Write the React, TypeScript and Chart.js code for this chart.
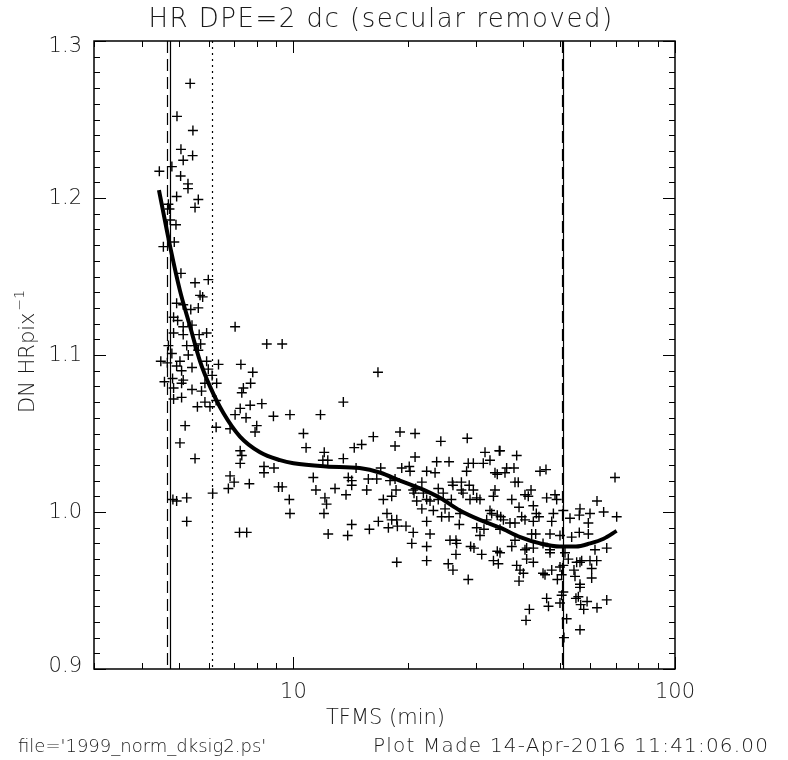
import React, { useEffect, useRef } from 'react';
import { Chart, registerables } from 'chart.js';

Chart.register(...registerables);

// ---------- text ----------
const TITLE = 'HR DPE=2 dc (secular removed)';
const X_TITLE = 'TFMS (min)';
const Y_TITLE = 'DN HRpix';
const Y_TITLE_SUP = '\u22121';
const FOOTER_LEFT = "file='1999_norm_dksig2.ps'";
const FOOTER_RIGHT = 'Plot Made 14-Apr-2016 11:41:06.00';

// ---------- axes ----------
const X_MIN = 3;
const X_MAX = 100;
const Y_MIN = 0.9;
const Y_MAX = 1.3;
const X_LABELED_TICKS = [10, 100];
const X_MINOR_TICKS = [3, 4, 5, 6, 7, 8, 9, 20, 30, 40, 50, 60, 70, 80, 90];
const Y_LABELED_TICKS = [0.9, 1.0, 1.1, 1.2, 1.3];
const Y_MINOR_STEP = 0.01;

// ---------- vertical reference lines ----------
const VLINE_X = [4.67, 4.76, 6.1, 50.5, 51.0];
const VLINE_STYLE = ['dashed', 'solid', 'dotted', 'dashed', 'solid'];

// ---------- fitted curve ----------
const FIT_X = [4.44, 4.75, 5.04, 5.36, 5.69, 6.04, 6.55, 7.24, 8.17, 9.22, 10.0, 12.2, 14.9, 16.9, 19.0, 21.5, 24.2, 27.3, 30.8, 34.8, 39.3, 44.3, 49.9, 55.0, 59.9, 65.0, 70.3];
const FIT_Y = [1.205, 1.169, 1.141, 1.118, 1.096, 1.080, 1.063, 1.048, 1.038, 1.033, 1.031, 1.029, 1.028, 1.025, 1.020, 1.015, 1.009, 1.001, 0.995, 0.990, 0.984, 0.980, 0.978, 0.978, 0.980, 0.983, 0.988];

// ---------- measurements (TFMS min, DN/HRpix) ----------
const SCATTER_X = [
  5.36, 4.95, 5.45, 5.07, 5.44, 5.14, 4.80, 4.45, 5.06,
  5.29, 5.29, 5.63, 4.94, 5.52, 4.70, 4.73, 4.75, 4.92, 4.56, 4.87, 5.07, 5.52, 5.98, 5.69, 5.78,
  4.94, 5.14, 5.38, 5.63, 4.85, 4.97, 5.14, 5.42, 4.85, 5.14, 5.66, 5.92, 7.03, 4.70, 5.25, 5.50,
  5.71, 4.80, 5.30, 5.63, 4.49, 4.67, 5.04, 4.94, 5.09, 5.42, 5.92, 6.36, 7.28, 7.82, 5.98, 6.12,
  4.59, 4.82, 5.14, 5.09, 4.85, 5.42, 5.74, 5.86, 6.29, 7.72, 7.39, 7.32, 4.85, 5.09, 5.86, 6.27,
  5.60, 6.04, 7.25, 7.70, 7.03, 7.51, 5.20, 6.27, 8.01, 7.93, 6.82, 5.04, 7.25, 7.32, 5.52, 7.25,
  6.82, 6.99, 6.75, 7.66, 6.14, 4.83, 4.94, 5.25, 5.25, 7.22, 7.54,
  8.51, 9.34, 16.65, 13.51, 8.26, 8.86, 9.79, 11.77, 10.62, 10.79, 12.04, 12.30, 11.94, 13.51,
  14.43, 15.09, 16.19, 18.46, 19.02, 20.83, 24.33, 28.54, 8.37, 8.37, 8.89, 9.14, 9.34, 9.75,
  9.79, 11.27, 11.45, 12.09, 12.21, 12.02, 12.33, 12.85, 13.73, 13.92, 14.21, 14.21, 14.59, 14.21,
  13.87, 15.56, 15.71, 16.53, 16.93, 15.81, 16.69, 17.58, 17.91, 18.09, 17.73, 18.65, 18.72, 18.46,
  18.57, 18.09, 17.20, 19.22, 20.11, 20.21, 19.72, 20.6, 20.42, 18.65, 20.83, 20.6, 20.9, 20.7,
  21.04, 21.70, 21.90, 22.34, 23.50, 23.73, 25.57, 22.34, 21.70, 22.80, 23.26, 22.34, 22.80, 22.34,
  22.34, 23.96, 23.96, 24.69, 24.45, 24.96, 25.57, 25.93, 26.09, 26.18, 27.55, 27.55, 27.82, 28.88,
  29.02, 29.61, 30.22, 30.82, 27.32, 27.2, 26.66, 25.72, 26.77, 26.66, 25.45, 26.18, 28.71, 29.13,
  29.72, 31.14, 30.22, 30.82, 31.57, 32.74, 33.08, 34.21, 32.09, 33.43, 34.21, 34.43, 28.43, 28.71,
  29.61, 31.44, 32.74, 31.77, 34.63, 33.74, 34.21, 33.74, 33.43,
  34.78, 38.46, 36.2, 37.84, 35.84, 38.07, 38.83, 44.28, 45.9, 69.62, 41.94, 40.44, 41.25, 37.34,
  39.01, 42.53, 46.09, 48.47, 48.96, 43.3, 44.0, 34.93, 35.5, 36.94, 38.07, 39.64, 40.44, 42.53,
  47.52, 48.0, 50.96, 53.06, 56.36, 56.12, 59.87, 62.45, 65.01, 59.27, 70.33, 34.78, 38.07, 37.34,
  40.85, 42.53, 45.09, 47.03, 43.13, 42.1, 47.03, 49.95, 53.6, 56.12, 59.27, 34.78, 40.44, 42.53,
  40.85, 47.03, 51.48, 52.52, 50.96, 55.24, 56.94, 56.36, 59.87, 61.70, 62.34, 66.23, 60.48, 38.46,
  39.24, 40.05, 45.09, 45.63, 47.52, 49.95, 50.46, 49.17, 54.35, 54.69, 60.48, 39.01, 56.36, 56.36,
  55.8, 55.0, 50.96, 50.46, 46.09, 46.6, 49.95, 58.82, 57.64, 56.6, 62.45, 66.23, 41.52, 40.69,
  52.0, 56.36, 51.17
];
const SCATTER_Y = [
  1.273, 1.252, 1.243, 1.231, 1.227, 1.224, 1.220, 1.217, 1.214,
  1.209, 1.206, 1.199, 1.201, 1.194, 1.196, 1.193, 1.186, 1.183, 1.169, 1.172, 1.152, 1.146, 1.148, 1.138, 1.137,
  1.133, 1.132, 1.129, 1.130, 1.124, 1.122, 1.118, 1.119, 1.114, 1.113, 1.113, 1.114, 1.118, 1.106, 1.106, 1.106,
  1.107, 1.101, 1.100, 1.103, 1.096, 1.095, 1.096, 1.093, 1.090, 1.092, 1.096, 1.094, 1.094, 1.089, 1.091, 1.087,
  1.083, 1.085, 1.084, 1.082, 1.079, 1.078, 1.077, 1.082, 1.082, 1.082, 1.079, 1.076, 1.072, 1.073, 1.070, 1.071,
  1.067, 1.067, 1.066, 1.068, 1.062, 1.060, 1.055, 1.054, 1.055, 1.051, 1.053, 1.044, 1.039, 1.036, 1.034, 1.031,
  1.023, 1.019, 1.015, 1.018, 1.012, 1.008, 1.007, 1.009, 0.994, 0.987, 0.987,
  1.107, 1.107, 1.089, 1.070, 1.069, 1.061, 1.062, 1.062, 1.050, 1.041, 1.038, 1.033, 1.033, 1.034,
  1.041, 1.043, 1.048, 1.042, 1.051, 1.050, 1.045, 1.047, 1.029, 1.025, 1.028, 1.016, 1.016, 1.008,
  0.999, 1.022, 1.014, 1.009, 1.005, 0.999, 0.986, 1.015, 1.011, 1.022, 1.020, 1.017, 1.028, 0.992,
  0.985, 1.014, 1.021, 1.021, 1.028, 0.989, 0.994, 0.999, 1.020, 0.995, 0.990, 0.995, 0.991, 1.021,
  1.014, 1.010, 1.008, 1.028, 1.029, 1.026, 0.991, 0.987, 0.980, 0.968, 1.035, 1.014, 1.015, 1.012,
  1.007, 1.019, 1.012, 1.026, 1.025, 1.032, 1.032, 1.008, 1.002, 1.007, 1.001, 0.994, 0.986, 0.978,
  0.969, 1.015, 1.008, 1.012, 0.997, 1.002, 0.997, 1.008, 1.019, 1.017, 1.019, 1.014, 1.012, 1.017,
  1.008, 1.014, 1.009, 1.008, 0.999, 0.992, 0.982, 0.982, 0.980, 0.973, 0.967, 0.963, 0.957, 0.978,
  0.977, 0.973, 0.990, 0.985, 0.989, 1.001, 0.999, 0.998, 0.995, 0.969, 0.975, 0.967, 1.026, 1.031,
  1.031, 1.031, 1.033, 1.038, 1.039, 1.025, 1.024, 1.014, 1.010,
  1.039, 1.036, 1.028, 1.028, 1.025, 1.019, 1.019, 1.026, 1.027, 1.022, 1.014, 1.011, 1.010, 1.008,
  1.003, 1.004, 1.009, 1.011, 1.008, 0.999, 0.997, 0.997, 0.995, 0.993, 0.993, 0.997, 0.995, 0.994,
  0.994, 0.999, 1.001, 0.996, 1.002, 0.998, 0.999, 1.007, 1.000, 0.993, 0.997, 0.989, 0.982, 0.978,
  0.977, 0.977, 0.980, 0.976, 0.986, 0.986, 0.986, 0.985, 0.984, 0.987, 0.986, 0.974, 0.976, 0.968,
  0.970, 0.974, 0.974, 0.970, 0.966, 0.968, 0.969, 0.968, 0.969, 0.976, 0.969, 0.977, 0.964, 0.966,
  0.963, 0.961, 0.961, 0.960, 0.963, 0.965, 0.960, 0.957, 0.963, 0.959, 0.958, 0.956, 0.954, 0.952,
  0.946, 0.945, 0.949, 0.947, 0.945, 0.940, 0.942, 0.943, 0.938, 0.941, 0.939, 0.944, 0.938, 0.931,
  0.932, 0.925, 0.920
];

const FONT = '"DejaVu Sans", sans-serif';
const TEXT_COLOR = '#1a1a1a';

const idlPlugin = {
  id: 'idlDecor',
  beforeDatasetsDraw(chart: any) {
    const { ctx, chartArea, scales } = chart;
    const { top, bottom } = chartArea;
    ctx.save();
    ctx.strokeStyle = '#000';
    ctx.lineWidth = 1.2;
    VLINE_X.forEach((v, i) => {
      const px = Math.round(scales.x.getPixelForValue(v)) + 0.5;
      const s = VLINE_STYLE[i];
      ctx.setLineDash(s === 'dashed' ? [12, 6] : s === 'dotted' ? [2, 4] : []);
      ctx.beginPath();
      ctx.moveTo(px, top);
      ctx.lineTo(px, bottom);
      ctx.stroke();
    });
    ctx.restore();
  },
  afterDraw(chart: any) {
    const { ctx, chartArea, scales } = chart;
    const { left, right, top, bottom } = chartArea;
    const xs = scales.x;
    const ys = scales.y;
    ctx.save();
    ctx.strokeStyle = '#000';
    ctx.fillStyle = TEXT_COLOR;
    ctx.setLineDash([]);
    // frame
    ctx.lineWidth = 1.5;
    ctx.strokeRect(left, top, right - left, bottom - top);
    // x ticks (bottom and top, inward)
    ctx.lineWidth = 1;
    const drawX = (v: number, len: number) => {
      const px = Math.round(xs.getPixelForValue(v)) + 0.5;
      ctx.beginPath();
      ctx.moveTo(px, bottom);
      ctx.lineTo(px, bottom - len);
      ctx.moveTo(px, top);
      ctx.lineTo(px, top + len);
      ctx.stroke();
    };
    X_MINOR_TICKS.forEach((v) => drawX(v, 6));
    X_LABELED_TICKS.forEach((v) => drawX(v, 12));
    // y ticks (left and right, inward)
    const nY = Math.round((Y_MAX - Y_MIN) / Y_MINOR_STEP);
    for (let i = 0; i <= nY; i++) {
      const v = Y_MIN + i * Y_MINOR_STEP;
      const len = i % 10 === 0 ? 12 : 6;
      const py = Math.round(ys.getPixelForValue(v)) + 0.5;
      ctx.beginPath();
      ctx.moveTo(left, py);
      ctx.lineTo(left + len, py);
      ctx.moveTo(right, py);
      ctx.lineTo(right - len, py);
      ctx.stroke();
    }
    // tick labels
    ctx.font = `200 21px ${FONT}`;
    ctx.textAlign = 'right';
    ctx.textBaseline = 'middle';
    Y_LABELED_TICKS.forEach((v, i) => {
      const shift = i === Y_LABELED_TICKS.length - 1 ? 5 : i === 0 ? -3 : 0;
      ctx.fillText(v.toFixed(1), left - 12, ys.getPixelForValue(v) + 1 + shift);
    });
    ctx.textAlign = 'center';
    X_LABELED_TICKS.forEach((v) => {
      ctx.fillText(String(v), xs.getPixelForValue(v), bottom + 24);
    });
    // axis titles
    ctx.fillText(X_TITLE, (left + right) / 2 + 1, bottom + 50);
    // y title rotated with superscript
    ctx.save();
    ctx.translate(34, 413);
    ctx.rotate(-Math.PI / 2);
    ctx.textAlign = 'left';
    ctx.textBaseline = 'alphabetic';
    ctx.font = `200 21px ${FONT}`;
    ctx.fillText(Y_TITLE, 0, 0);
    const w = ctx.measureText(Y_TITLE).width;
    ctx.font = `200 14px ${FONT}`;
    ctx.fillText(Y_TITLE_SUP, w + 2, -10);
    ctx.restore();
    // title
    ctx.font = `200 26px ${FONT}`;
    (ctx as any).letterSpacing = '1.5px';
    ctx.textAlign = 'center';
    ctx.textBaseline = 'alphabetic';
    ctx.fillText(TITLE, 381, 27);
    // footer
    ctx.textAlign = 'left';
    ctx.font = `200 18px ${FONT}`;
    (ctx as any).letterSpacing = '0px';
    ctx.fillText(FOOTER_LEFT, 18, 752);
    ctx.font = `200 20px ${FONT}`;
    (ctx as any).letterSpacing = '1.2px';
    ctx.fillText(FOOTER_RIGHT, 373, 752);
    ctx.restore();
  },
};

export default function App() {
  const canvasRef = useRef<HTMLCanvasElement | null>(null);

  useEffect(() => {
    if (!canvasRef.current) return;
    const scatterData = SCATTER_X.map((x, i) => ({ x, y: SCATTER_Y[i] }));
    const fitData = FIT_X.map((x, i) => ({ x, y: FIT_Y[i] }));
    const chart = new Chart(canvasRef.current, {
      type: 'scatter',
      data: {
        datasets: [
          {
            type: 'scatter',
            data: scatterData,
            pointStyle: 'cross',
            pointRadius: 5,
            pointBorderWidth: 1.4,
            borderColor: '#000',
            backgroundColor: '#000',
          } as any,
          {
            type: 'line',
            data: fitData,
            borderColor: '#000',
            borderWidth: 4,
            pointRadius: 0,
            fill: false,
            cubicInterpolationMode: 'monotone',
          } as any,
        ],
      },
      options: {
        responsive: false,
        animation: false,
        devicePixelRatio: 1,
        layout: { padding: { left: 94, right: 113, top: 41, bottom: 91 } },
        plugins: {
          legend: { display: false },
          tooltip: { enabled: false },
          title: { display: false },
        },
        scales: {
          x: { type: 'logarithmic', min: X_MIN, max: X_MAX, display: false },
          y: { type: 'linear', min: Y_MIN, max: Y_MAX, display: false },
        },
      },
      plugins: [idlPlugin],
    });
    return () => chart.destroy();
  }, []);

  return (
    <div style={{ position: 'absolute', left: 0, top: 0, width: 788, height: 760, background: '#fff' }}>
      <canvas ref={canvasRef} width={788} height={760} style={{ width: 788, height: 760, display: 'block' }} />
    </div>
  );
}
